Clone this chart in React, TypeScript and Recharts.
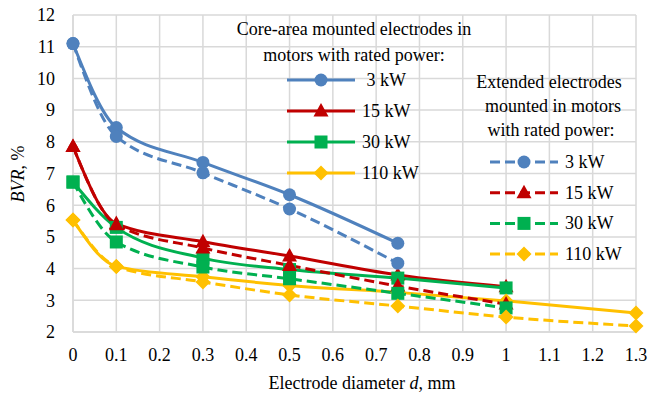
import React from 'react';
import { LineChart, Line, XAxis, YAxis, CartesianGrid } from 'recharts';

// electrode diameter d, mm
const diameters = [0, 0.1, 0.3, 0.5, 0.75, 1, 1.3];
const xTicks = [0, 0.1, 0.2, 0.3, 0.4, 0.5, 0.6, 0.7, 0.8, 0.9, 1, 1.1, 1.2, 1.3];
const yTicks = [2, 3, 4, 5, 6, 7, 8, 9, 10, 11, 12];

// BVR, % — core-area mounted electrodes
const core3 = [11.1, 8.45, 7.35, 6.33, 4.8];
const core15 = [7.85, 5.42, 4.85, 4.4, 3.8, 3.43];
const core30 = [6.73, 5.3, 4.33, 3.97, 3.7, 3.39];
const core110 = [5.53, 4.07, 3.74, 3.47, 3.25, 2.98, 2.6];
// BVR, % — extended electrodes
const ext3 = [11.1, 8.17, 7.02, 5.88, 4.17];
const ext15 = [7.85, 5.38, 4.65, 4.1, 3.45, 2.88];
const ext30 = [6.73, 4.84, 4.05, 3.68, 3.22, 2.76];
const ext110 = [5.53, 4.07, 3.58, 3.17, 2.82, 2.47, 2.19];

const powers = ['3 kW', '15 kW', '30 kW', '110 kW'];
const colors = ['#4F81BD', '#C00000', '#00B050', '#FFC000'];
const shapes = ['circle', 'triangle', 'square', 'diamond'];

const data = diameters.map((d, i) => ({
  d,
  core3: core3[i],
  core15: core15[i],
  core30: core30[i],
  core110: core110[i],
  ext3: ext3[i],
  ext15: ext15[i],
  ext30: ext30[i],
  ext110: ext110[i],
}));

const FONT = '"Liberation Serif", "Times New Roman", serif';
const DASH = '10 5';
const txt = { fontFamily: FONT, fontSize: 18, fill: '#000' };

function Mark({ kind, x, y, color }: { kind: string; x: number; y: number; color: string }) {
  if (kind === 'circle') return <circle cx={x} cy={y} r={6.5} fill={color} />;
  if (kind === 'square') return <rect x={x - 6.5} y={y - 6.5} width={13} height={13} fill={color} />;
  if (kind === 'triangle')
    return <polygon points={`${x},${y - 8} ${x + 7.5},${y + 5.5} ${x - 7.5},${y + 5.5}`} fill={color} />;
  return <polygon points={`${x},${y - 7.5} ${x + 7.5},${y} ${x},${y + 7.5} ${x - 7.5},${y}`} fill={color} />;
}

const dotFor = (kind: string, color: string) => (props: any) => {
  const { cx, cy, key } = props;
  if (cx == null || cy == null || props.value == null) return <g key={key} />;
  return (
    <g key={key}>
      <Mark kind={kind} x={cx} y={cy} color={color} />
    </g>
  );
};

function LegendRow({ x, y, i, dashed }: { x: number; y: number; i: number; dashed: boolean }) {
  return (
    <g>
      <line
        x1={x}
        x2={x + 68}
        y1={y}
        y2={y}
        stroke={colors[i]}
        strokeWidth={3}
        strokeDasharray={dashed ? DASH : undefined}
      />
      <Mark kind={shapes[i]} x={x + 34} y={y} color={colors[i]} />
      <text x={x + 75} y={y + 6} style={txt}>
        {i === 0 && !dashed ? '\u00a0' + powers[i] : powers[i]}
      </text>
    </g>
  );
}

export default function App() {
  const coreKeys = ['core3', 'core15', 'core30', 'core110'];
  const extKeys = ['ext3', 'ext15', 'ext30', 'ext110'];
  return (
    <div
      style={{
        position: 'absolute',
        left: 0,
        top: 0,
        width: 650,
        height: 395,
        background: '#fff',
        fontFamily: FONT,
      }}
    >
      <LineChart width={650} height={395} data={data} margin={{ top: 15, right: 14, bottom: 0, left: 0 }}>
        <CartesianGrid stroke="#D9D9D9" strokeWidth={1.5} />
        <XAxis
          dataKey="d"
          type="number"
          domain={[0, 1.3]}
          ticks={xTicks}
          interval={0}
          height={63}
          axisLine={{ stroke: '#D9D9D9', strokeWidth: 1.5 }}
          tickLine={false}
          tickMargin={10}
          tick={txt}
        />
        <YAxis
          width={73}
          domain={[2, 12]}
          ticks={yTicks}
          interval={0}
          axisLine={{ stroke: '#D9D9D9', strokeWidth: 1.5 }}
          tickLine={false}
          tickMargin={12}
          tick={txt}
        />
        {coreKeys.map((k, i) => (
          <Line
            key={k}
            dataKey={k}
            type="monotone"
            stroke={colors[i]}
            strokeWidth={3}
            dot={dotFor(shapes[i], colors[i])}
            isAnimationActive={false}
          />
        ))}
        {extKeys.map((k, i) => (
          <Line
            key={k}
            dataKey={k}
            type="monotone"
            stroke={colors[i]}
            strokeWidth={3}
            strokeDasharray={DASH}
            dot={dotFor(shapes[i], colors[i])}
            isAnimationActive={false}
          />
        ))}
      </LineChart>
      <svg width={650} height={395} style={{ position: 'absolute', left: 0, top: 0, pointerEvents: 'none' }}>
        <text x={18} y={174} textAnchor="middle" transform="rotate(-90 18 174)" dy={6} style={txt}>
          <tspan fontStyle="italic">BVR</tspan>, %
        </text>
        <text x={362} y={389} textAnchor="middle" style={txt}>
          Electrode diameter <tspan fontStyle="italic">d</tspan>, mm
        </text>
        <text x={354} y={35} textAnchor="middle" style={txt}>
          Core-area mounted electrodes in
        </text>
        <text x={354} y={61} textAnchor="middle" style={txt}>
          motors with rated power:
        </text>
        {powers.map((p, i) => (
          <LegendRow key={'c' + p} x={287} y={80 + i * 31} i={i} dashed={false} />
        ))}
        <text x={549} y={88} textAnchor="middle" style={txt}>
          Extended electrodes
        </text>
        <text x={553} y={112} textAnchor="middle" style={txt}>
          mounted in motors
        </text>
        <text x={551} y={136} textAnchor="middle" style={txt}>
          with rated power:
        </text>
        {powers.map((p, i) => (
          <LegendRow key={'e' + p} x={490} y={162 + i * 30.7} i={i} dashed={true} />
        ))}
      </svg>
    </div>
  );
}
